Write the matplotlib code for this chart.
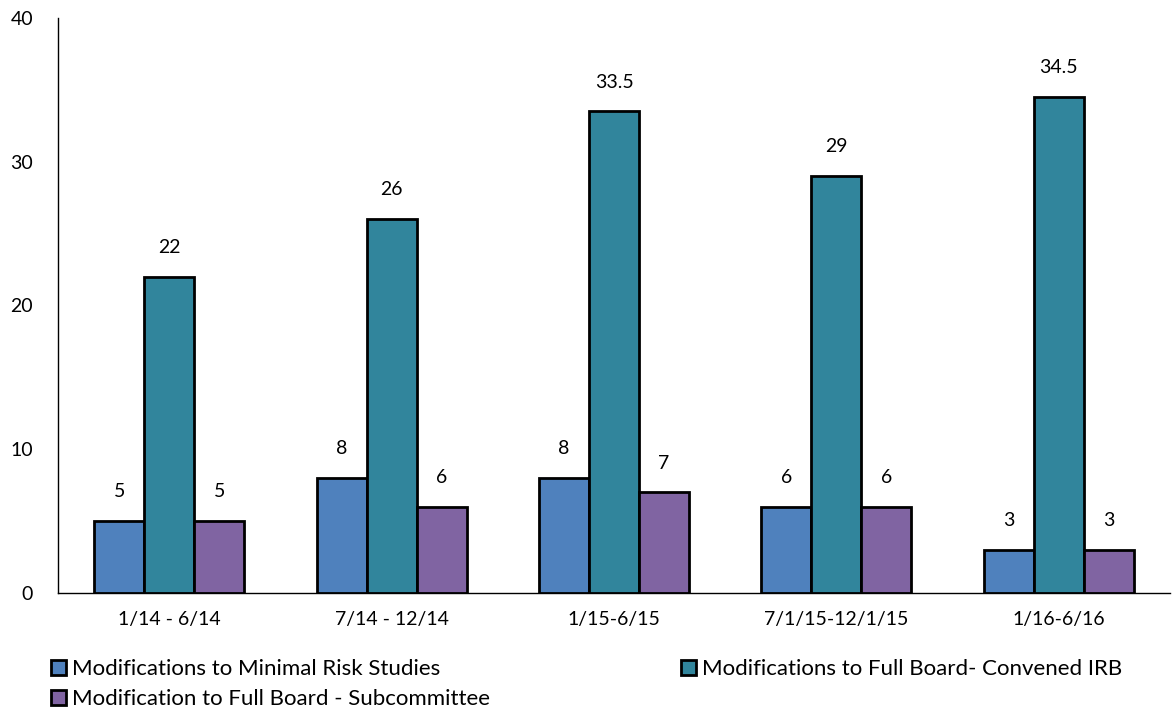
import matplotlib
matplotlib.use("Agg")
import matplotlib.pyplot as plt
import numpy as np
from matplotlib.patches import Patch

categories = ["1/14 - 6/14", "7/14 - 12/14", "1/15-6/15", "7/1/15-12/1/15", "1/16-6/16"]
series_names = ["Modifications to Minimal Risk Studies",
                "Modifications to Full Board- Convened IRB",
                "Modification to Full Board - Subcommittee"]
minimal_risk = [5, 8, 8, 6, 3]
convened_irb = [22, 26, 33.5, 29, 34.5]
subcommittee = [5, 6, 7, 6, 3]
colors = ["#4F81BD", "#31859C", "#8064A2"]

plt.rcParams['font.family'] = ['Lato', 'DejaVu Sans']

fig = plt.figure(figsize=(11.72, 7.11), dpi=100)
ax = fig.add_axes([58/1172, 1-593/711, 1-60/1172, (593-18)/711])

x = np.arange(len(categories))
w = 0.225
data = [minimal_risk, convened_irb, subcommittee]
for i, (vals, c) in enumerate(zip(data, colors)):
    bars = ax.bar(x + (i-1)*w, vals, width=w, color=c, edgecolor='black', linewidth=2, zorder=3)
    for b, v in zip(bars, vals):
        lab = f"{v:g}"
        ax.annotate(lab, (b.get_x()+b.get_width()/2, v), xytext=(0, 15), textcoords='offset points',
                    ha='center', va='bottom', fontsize=14)

ax.set_xlim(-0.5, 4.5)
ax.set_ylim(0, 40)
ax.set_yticks([0, 10, 20, 30, 40])
ax.set_xticks(x)
ax.set_xticklabels(categories)
ax.tick_params(axis='both', length=0, labelsize=14)
ax.tick_params(axis='y', pad=18)
ax.tick_params(axis='x', pad=13)
for s in ['top', 'right']:
    ax.spines[s].set_visible(False)
ax.spines['left'].set_linewidth(1)
ax.spines['bottom'].set_linewidth(1)

handles = [Patch(facecolor=c, edgecolor='black', linewidth=2) for c in colors]
order = [0, 2, 1]
fig.legend([handles[k] for k in order], [series_names[k] for k in order],
           loc='upper left', bbox_to_anchor=(40/1172, 1-648/711),
           ncol=2, frameon=False, fontsize=16, handlelength=0.65, handleheight=0.65,
           handletextpad=0.3, columnspacing=8.6, labelspacing=0.45, borderpad=0)

fig.savefig("out.png", dpi=100)
